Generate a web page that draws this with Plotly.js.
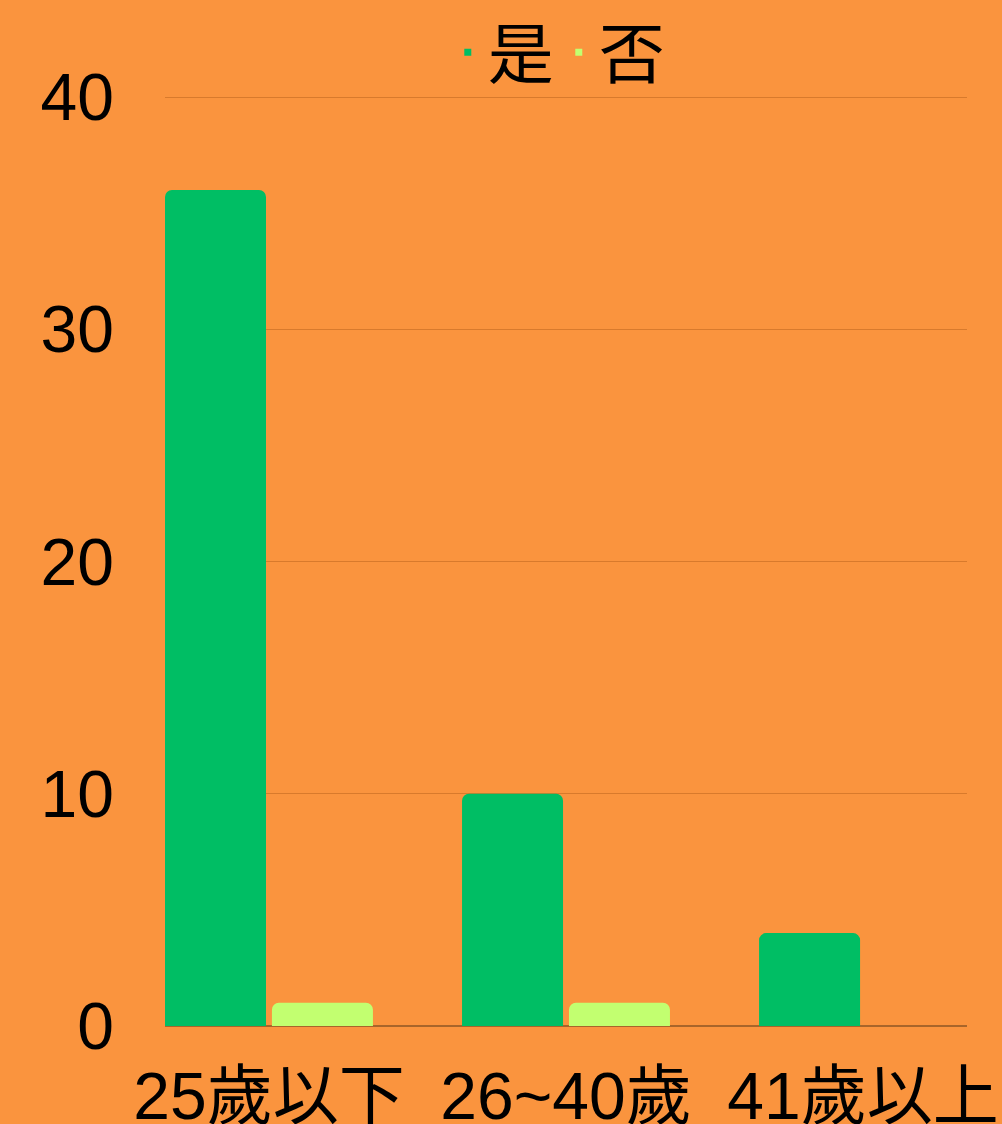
<!DOCTYPE html>
<html><head><meta charset="utf-8">
<script src="https://cdn.plot.ly/plotly-3.0.1.min.js"></script>
<style>html,body{margin:0;padding:0;background:#FA943E;}</style>
</head><body>
<div id="chart" style="width:1002px;height:1124px;"></div>
<script>
const categories = ['25歲以下', '26~40歲', '41歲以上'];
const seriesNames = ['是', '否'];
const yesValues = [36, 10, 4];
const noValues = [1, 1, 0];
const yTicks = [0, 10, 20, 30, 40];

const FONT = '"Liberation Sans", Arial, "Noto Sans CJK TC", sans-serif';
const BG = '#FA943E';
const C_YES = '#00BE64';
const C_NO = '#C2FF70';

const xIdx = categories.map((c, i) => i);
const traces = [
  {type: 'bar', x: xIdx, y: yesValues, marker: {color: C_YES}, width: 0.34, offset: -0.35, showlegend: false, hoverinfo: 'skip'},
  {type: 'bar', x: xIdx, y: noValues, marker: {color: C_NO}, width: 0.34, offset: 0.01, showlegend: false, hoverinfo: 'skip'},
  {type: 'scatter', mode: 'markers', x: [null], y: [null], name: seriesNames[0], marker: {symbol: 'square', size: 7, color: C_YES}},
  {type: 'scatter', mode: 'markers', x: [null], y: [null], name: seriesNames[1], marker: {symbol: 'square', size: 7, color: C_NO}}
];

const layout = {
  width: 1002, height: 1124,
  margin: {l: 165, r: 35, t: 96, b: 98, autoexpand: false},
  paper_bgcolor: BG, plot_bgcolor: BG,
  font: {family: FONT, color: '#000', size: 66},
  barmode: 'overlay',
  barcornerradius: 7,
  showlegend: true,
  legend: {orientation: 'h', x: 0.491, xanchor: 'center', y: 1.047, yanchor: 'middle', font: {size: 66, color: '#000'}, itemwidth: 30, bgcolor: 'rgba(0,0,0,0)', tracegroupgap: 0},
  xaxis: {
    range: [-0.35, 2.35], tickmode: 'array', tickvals: xIdx, ticktext: categories,
    showgrid: false, zeroline: false, showline: false, ticks: '', fixedrange: true,
    ticklabelstandoff: 26,
    tickfont: {size: 66, color: '#000'}
  },
  yaxis: {
    range: [0, 40.05], tickmode: 'array', tickvals: yTicks, ticktext: yTicks.map(String),
    showgrid: true, gridcolor: '#D87A2C', gridwidth: 1,
    zeroline: true, zerolinecolor: '#A8652A', zerolinewidth: 1.5,
    showline: false, ticks: '', ticklabelstandoff: 50,
    tickfont: {size: 66, color: '#000'}
  }
};
Plotly.newPlot('chart', traces, layout, {staticPlot: true, displayModeBar: false});
</script>
</body></html>
